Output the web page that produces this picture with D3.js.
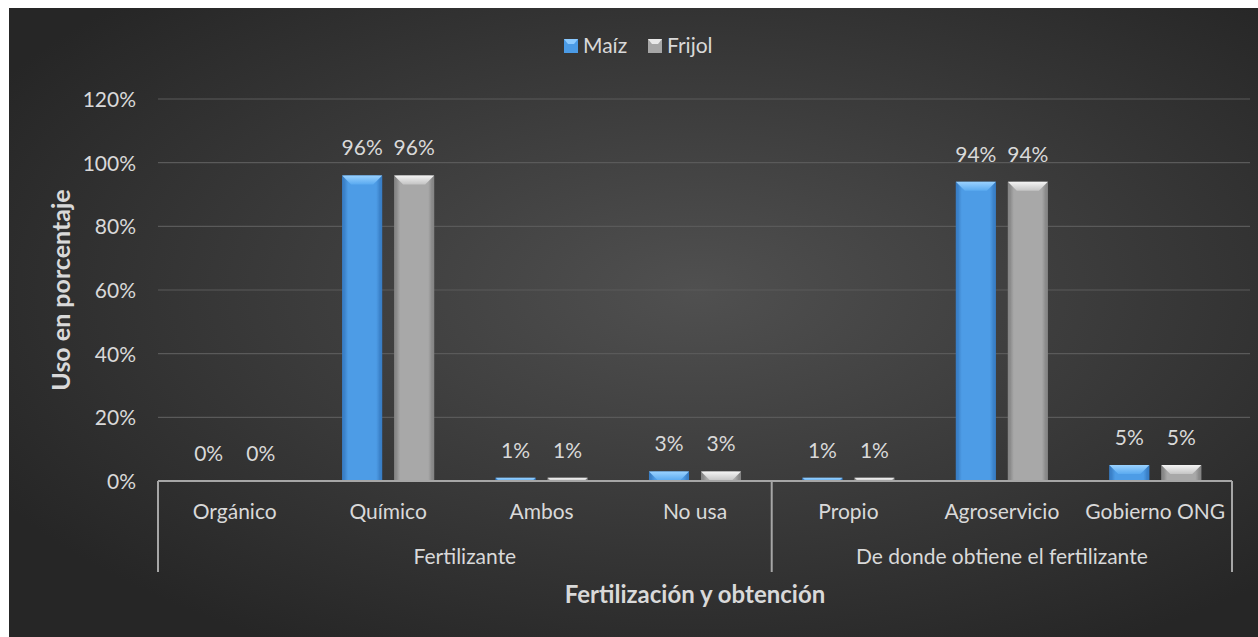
<!DOCTYPE html>
<html>
<head>
<meta charset="utf-8">
<script src="https://cdn.jsdelivr.net/npm/d3@7"></script>
<style>
  html, body { margin: 0; padding: 0; background: #ffffff; }
  svg { display: block; }
  text { font-family: Lato, "Open Sans", sans-serif; }
</style>
</head>
<body>
<svg id="chart" width="1258" height="637"></svg>
<script>
// Fertilizer use data (percentages)
const categories = ["Orgánico", "Químico", "Ambos", "No usa", "Propio", "Agroservicio", "Gobierno ONG"];
const groups = [
  { name: "Fertilizante", from: 0, to: 3 },
  { name: "De donde obtiene el fertilizante", from: 4, to: 6 }
];
const seriesNames = ["Maíz", "Frijol"];
const maiz   = [0, 96, 1, 3, 1, 94, 5];
const frijol = [0, 96, 1, 3, 1, 94, 5];
const yTicks = [0, 20, 40, 60, 80, 100, 120];

const W = 1258, H = 637;
const FS = 21;
const txt = "#d9d9d9";
const svg = d3.select("#chart");
const defs = svg.append("defs");

// chart panel background
const bg = defs.append("radialGradient").attr("id", "bgGrad")
  .attr("cx", "55%").attr("cy", "45%").attr("r", "65%");
bg.append("stop").attr("offset", "0%").attr("stop-color", "#505050");
bg.append("stop").attr("offset", "100%").attr("stop-color", "#262626");

const panel = { x: 9, y: 8, w: W - 9, h: H - 8 };
svg.append("rect").attr("x", panel.x).attr("y", panel.y)
  .attr("width", panel.w).attr("height", panel.h).attr("fill", "url(#bgGrad)");

// bar gradients
function barGrad(id, dark, mid) {
  const g = defs.append("linearGradient").attr("id", id)
    .attr("x1", "0%").attr("x2", "100%").attr("y1", "0%").attr("y2", "0%");
  g.append("stop").attr("offset", "0%").attr("stop-color", dark);
  g.append("stop").attr("offset", "15%").attr("stop-color", mid);
  g.append("stop").attr("offset", "85%").attr("stop-color", mid);
  g.append("stop").attr("offset", "100%").attr("stop-color", dark);
}
barGrad("gMaiz", "#3474b8", "#4d9ce6");
barGrad("gFrijol", "#7a7a7a", "#a8a8a8");
function topGrad(id, c1, c2) {
  const g = defs.append("linearGradient").attr("id", id)
    .attr("x1", "0%").attr("x2", "0%").attr("y1", "0%").attr("y2", "100%");
  g.append("stop").attr("offset", "0%").attr("stop-color", c1);
  g.append("stop").attr("offset", "100%").attr("stop-color", c2);
}
topGrad("tMaiz", "#9ad2ff", "#5aaaf0");
topGrad("tFrijol", "#f4f4f4", "#c4c4c4");
const colors = [
  { fill: "url(#gMaiz)", top: "url(#tMaiz)", side: "#3a82cc", legend: "#4b9be6", ltop: "#8ccaff" },
  { fill: "url(#gFrijol)", top: "url(#tFrijol)", side: "#8a8a8a", legend: "#a6a6a6", ltop: "#e8e8e8" }
];

const plot = { left: 158, right: 1232, top: 99, bottom: 481 };

const x0 = d3.scaleBand().domain(categories)
  .range([plot.left, plot.right]).paddingInner(0).paddingOuter(0);
const x1 = d3.scaleBand().domain(seriesNames)
  .range([0, x0.bandwidth()]).paddingInner(0.23).paddingOuter(0.59);
const y = d3.scaleLinear().domain([0, 120]).range([plot.bottom, plot.top]);

// gridlines
svg.append("g").selectAll("line").data(yTicks.filter(d => d > 0)).join("line")
  .attr("x1", plot.left).attr("x2", 1250)
  .attr("y1", d => y(d)).attr("y2", d => y(d))
  .attr("stroke", "#5a5a5a").attr("stroke-width", 1.2);

// y axis labels
const yAxis = d3.axisLeft(y).tickValues(yTicks).tickFormat(d => d + "%").tickSize(0).tickPadding(0);
const yg = svg.append("g").attr("transform", `translate(${plot.left - 22},0)`).call(yAxis);
yg.select(".domain").remove();
yg.selectAll("text").attr("fill", txt).attr("font-size", FS).attr("dy", "0.35em")
  .style("font-family", "Lato, 'Open Sans', sans-serif");

// bars
const series = [maiz, frijol];
const barsG = svg.append("g");
series.forEach((vals, si) => {
  const c = colors[si];
  categories.forEach((cat, i) => {
    const v = vals[i];
    const bx = x0(cat) + x1(seriesNames[si]);
    const bw = x1.bandwidth();
    const by = y(v);
    const bh = y(0) - by;
    if (v > 0) {
      const g = barsG.append("g");
      g.append("rect").attr("x", bx).attr("y", by).attr("width", bw).attr("height", bh)
        .attr("fill", c.fill);
      // beveled top edge
      const bev = Math.min(9, bh);
      if (bh > 2) {
        g.append("path")
          .attr("d", `M${bx},${by} L${bx + bw},${by} L${bx + bw - bev},${by + bev} L${bx + bev},${by + bev} Z`)
          .attr("fill", c.top);
        g.append("path")
          .attr("d", `M${bx},${by} L${bx + 3},${by + bev} L${bx + 3},${by + bh} L${bx},${by + bh} Z`)
          .attr("fill", c.side).attr("opacity", 0.6);
        g.append("path")
          .attr("d", `M${bx + bw},${by} L${bx + bw - 3},${by + bev} L${bx + bw - 3},${by + bh} L${bx + bw},${by + bh} Z`)
          .attr("fill", c.side).attr("opacity", 0.6);
      }
    }
    // value label
    svg.append("text").attr("x", bx + bw / 2).attr("y", by - 20)
      .attr("text-anchor", "middle").attr("fill", txt).attr("font-size", FS)
      .text(v + "%");
  });
});

// category axis line and group separators
const axisColor = "#a6a6a6";
svg.append("line").attr("x1", plot.left).attr("x2", plot.right)
  .attr("y1", plot.bottom).attr("y2", plot.bottom)
  .attr("stroke", axisColor).attr("stroke-width", 2);
const sepX = [plot.left, x0(categories[groups[1].from]), plot.right];
svg.append("g").selectAll("line").data(sepX).join("line")
  .attr("x1", d => d).attr("x2", d => d)
  .attr("y1", plot.bottom).attr("y2", 572)
  .attr("stroke", axisColor).attr("stroke-width", 2);

// category labels
svg.append("g").selectAll("text").data(categories).join("text")
  .attr("x", d => x0(d) + x0.bandwidth() / 2).attr("y", 519)
  .attr("text-anchor", "middle").attr("fill", txt).attr("font-size", FS)
  .text(d => d);

// group labels
svg.append("g").selectAll("text").data(groups).join("text")
  .attr("x", d => (x0(categories[d.from]) + x0(categories[d.to]) + x0.bandwidth()) / 2)
  .attr("y", 564)
  .attr("text-anchor", "middle").attr("fill", txt).attr("font-size", FS)
  .text(d => d.name);

// axis titles
svg.append("text").attr("x", 695).attr("y", 603)
  .attr("text-anchor", "middle").attr("fill", txt).attr("font-size", 24)
  .attr("font-weight", "bold").text("Fertilización y obtención");
svg.append("text").attr("transform", `translate(70,290) rotate(-90)`)
  .attr("text-anchor", "middle").attr("fill", txt).attr("font-size", 25)
  .attr("font-weight", "bold").text("Uso en porcentaje");

// legend
const legend = svg.append("g").attr("transform", "translate(564,46)");
const legendX = [0, 84];
seriesNames.forEach((name, i) => {
  const g = legend.append("g").attr("transform", `translate(${legendX[i]},0)`);
  g.append("rect").attr("x", 0).attr("y", -7).attr("width", 14).attr("height", 14)
    .attr("fill", colors[i].legend);
  g.append("path").attr("d", "M0,-7 L14,-7 L10,-2 L4,-2 Z").attr("fill", colors[i].ltop);
  g.append("text").attr("x", 19).attr("y", 0).attr("dy", "0.35em")
    .attr("fill", txt).attr("font-size", FS).text(name);
});
</script>
</body>
</html>
